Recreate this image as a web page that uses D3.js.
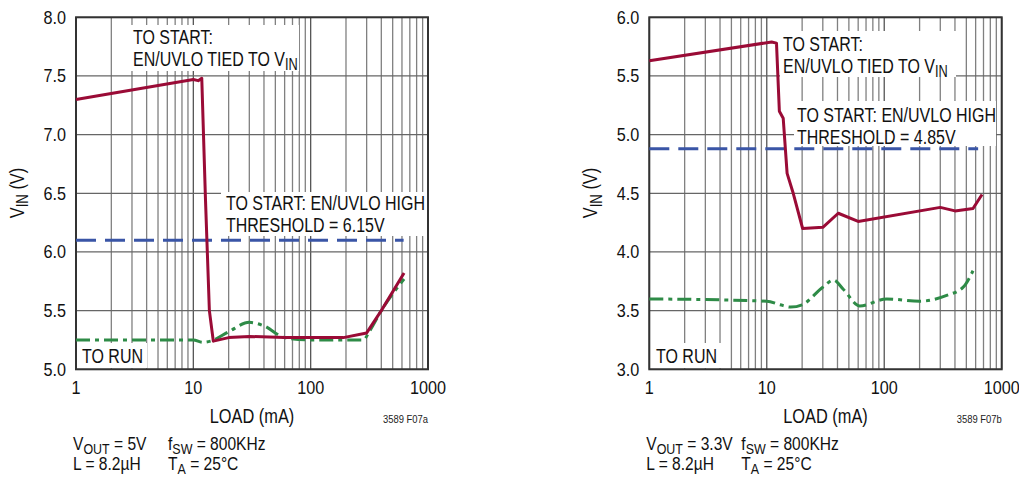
<!DOCTYPE html>
<html>
<head>
<meta charset="utf-8">
<script src="https://cdn.jsdelivr.net/npm/d3@7"></script>
<style>
  body { margin: 0; background: #fff; }
  svg { display: block; font-family: "Liberation Sans", Arial, sans-serif; }
</style>
</head>
<body>
<div id="chart"></div>
<script>
// load ticks (mA)
const loadTicks = [1, 10, 100, 1000];

// left panel: VOUT = 5V
const leftVinTicks = [5.0, 5.5, 6.0, 6.5, 7.0, 7.5, 8.0];
const leftStartLoad = [1, 10, 11, 11.8, 12.7, 13.7, 14.8, 20, 30, 60, 100, 190, 300, 400, 625];
const leftStartVin  = [7.30, 7.47, 7.46, 7.48, 6.44, 5.50, 5.24, 5.27, 5.28, 5.27, 5.27, 5.27, 5.31, 5.50, 5.82];
const leftRunLoad = [1, 10, 12, 14, 20, 30, 40, 60, 100, 200, 280, 320, 400, 625];
const leftRunVin  = [5.25, 5.25, 5.23, 5.24, 5.32, 5.40, 5.37, 5.27, 5.25, 5.25, 5.25, 5.33, 5.50, 5.77];
const leftThreshold = 6.1;
const leftThresholdEnd = 620;

// right panel: VOUT = 3.3V
const rightVinTicks = [3.0, 3.5, 4.0, 4.5, 5.0, 5.5, 6.0];
const rightStartLoad = [1, 11, 12.1, 12.8, 13.8, 14.9, 16.8, 20.2, 30, 40.6, 60, 300, 400, 570, 680];
const rightStartVin  = [5.63, 5.79, 5.78, 5.20, 5.14, 4.67, 4.50, 4.20, 4.21, 4.33, 4.26, 4.38, 4.35, 4.37, 4.49];
const rightRunLoad = [1, 10, 13, 16, 20, 30, 37, 45, 62, 105, 200, 340, 470, 570];
const rightRunVin  = [3.60, 3.58, 3.55, 3.53, 3.55, 3.70, 3.76, 3.68, 3.54, 3.60, 3.58, 3.63, 3.70, 3.84];
const rightThreshold = 4.88;
const rightThresholdEnd = 630;

const W = 1019, H = 479;
const svg = d3.select("#chart").append("svg")
    .attr("width", W)
    .attr("height", H)
    .attr("viewBox", [0, 0, W, H]);

const red = "#9a0b36", blue = "#3a55a6", green = "#2e8b47";

// condensed text: Liberation Sans squeezed horizontally
function label(parent, x, y, size, parts, opts = {}) {
  const sx = opts.sx || 0.82;
  const rot = opts.rotate ? ` rotate(${opts.rotate})` : "";
  const t = parent.append("text")
      .attr("transform", `translate(${x},${y})${rot} scale(${sx},1)`)
      .attr("font-size", size)
      .attr("fill", opts.fill || "#111")
      .attr("text-anchor", opts.anchor || "start");
  if (opts.dy) t.attr("dy", opts.dy);
  if (typeof parts === "string") parts = [[parts, false]];
  parts.forEach(([s, sub], i) => {
    const ts = t.append("tspan").text(s);
    if (sub) ts.attr("font-size", size * 0.8).attr("dy", size * 0.22);
    else if (i > 0 && parts[i - 1][1]) ts.attr("dy", -size * 0.22);
  });
  return t;
}

function panel(opt) {
  const g = svg.append("g");
  const x = d3.scaleLog().domain([1, 1000]).range([opt.left, opt.right]);
  const y = d3.scaleLinear().domain(opt.yDomain).range([369.3, 17.3]);

  // grid
  const minor = [];
  for (let d = 1; d < 1000; d *= 10) for (let k = 2; k <= 9; k++) minor.push(d * k);
  g.append("g").selectAll("line").data(minor).join("line")
      .attr("x1", d => x(d)).attr("x2", d => x(d))
      .attr("y1", y.range()[0]).attr("y2", y.range()[1])
      .attr("stroke", "#808080").attr("stroke-width", 1.3);
  g.append("g").selectAll("line").data(loadTicks).join("line")
      .attr("x1", d => x(d)).attr("x2", d => x(d))
      .attr("y1", y.range()[0]).attr("y2", y.range()[1])
      .attr("stroke", "#555").attr("stroke-width", 1.3);
  g.append("g").selectAll("line").data(opt.yTicks).join("line")
      .attr("x1", opt.left).attr("x2", opt.right)
      .attr("y1", d => y(d)).attr("y2", d => y(d))
      .attr("stroke", "#666").attr("stroke-width", 1.3);

  // annotation boxes
  opt.notes.forEach(n => {
    g.append("rect").attr("x", n.box[0]).attr("y", n.box[1])
      .attr("width", n.box[2]).attr("height", n.box[3]).attr("fill", "#fff");
    n.lines.forEach((ln, i) => label(g, n.x, n.y + i * 22, 19.5, ln));
  });

  // frame
  g.append("rect").attr("x", opt.left).attr("y", 17.3)
      .attr("width", opt.right - opt.left).attr("height", 352)
      .attr("fill", "none").attr("stroke", "#333").attr("stroke-width", 2);

  // axes labels
  opt.yTicks.forEach(d =>
    label(g, opt.left - 10, y(d), 18, d3.format(".1f")(d), { anchor: "end", dy: "0.35em", sx: 0.9 }));
  loadTicks.forEach(d =>
    label(g, x(d), 394, 18, String(d), { anchor: "middle", sx: 0.9 }));
  label(g, (opt.left + opt.right) / 2, 423, 19.5, "LOAD (mA)", { anchor: "middle", sx: 0.84 });
  label(g, opt.right, 423, 11.5, opt.code, { anchor: "end", sx: 0.82, fill: "#222" });
  label(g, opt.left - 52, 193, 19.5, [["V", false], ["IN", true], [" (V)", false]],
    { anchor: "middle", rotate: -90, sx: 0.84 });

  // threshold (blue dashed)
  g.append("line")
      .attr("x1", x(1)).attr("x2", x(opt.thEnd))
      .attr("y1", y(opt.th)).attr("y2", y(opt.th))
      .attr("stroke", blue).attr("stroke-width", 3)
      .attr("stroke-dasharray", "20,9");

  const line = d3.line().x(d => x(d[0])).y(d => y(d[1]));
  // to run (green dash-dot)
  g.append("path").datum(d3.zip(opt.runLoad, opt.runVin))
      .attr("d", line.curve(d3.curveMonotoneX))
      .attr("fill", "none").attr("stroke", green).attr("stroke-width", 3)
      .attr("stroke-dasharray", "14,5,4,5");
  // to start (red)
  g.append("path").datum(d3.zip(opt.startLoad, opt.startVin))
      .attr("d", line.curve(d3.curveLinear))
      .attr("fill", "none").attr("stroke", red).attr("stroke-width", 3)
      .attr("stroke-linejoin", "round");

  // conditions text
  label(g, opt.left - 3, 450, 19, [["V", false], ["OUT", true], [opt.vout, false]]);
  label(g, opt.left + 92, 450, 19, [["f", false], ["SW", true], [" = 800KHz", false]]);
  label(g, opt.left - 3, 470, 19, "L = 8.2µH");
  label(g, opt.left + 92, 470, 19, [["T", false], ["A", true], [" = 25°C", false]]);
}

panel({
  left: 76, right: 428, yDomain: [5, 8], yTicks: leftVinTicks,
  startLoad: leftStartLoad, startVin: leftStartVin,
  runLoad: leftRunLoad, runVin: leftRunVin,
  th: leftThreshold, thEnd: leftThresholdEnd,
  code: "3589 F07a", vout: " = 5V",
  notes: [
    { x: 133, y: 44, box: [129, 25, 170, 46],
      lines: [[["TO START:", false]], [["EN/UVLO TIED TO V", false], ["IN", true]]] },
    { x: 226, y: 210, box: [221, 192, 206, 44],
      lines: [[["TO START: EN/UVLO HIGH", false]], [["THRESHOLD = 6.15V", false]]] },
    { x: 82, y: 363, box: [78, 343, 69, 25],
      lines: [[["TO RUN", false]]] }
  ]
});

panel({
  left: 649.3, right: 1001.7, yDomain: [3, 6], yTicks: rightVinTicks,
  startLoad: rightStartLoad, startVin: rightStartVin,
  runLoad: rightRunLoad, runVin: rightRunVin,
  th: rightThreshold, thEnd: rightThresholdEnd,
  code: "3589 F07b", vout: " = 3.3V",
  notes: [
    { x: 783, y: 51, box: [780, 31, 176, 46],
      lines: [[["TO START:", false]], [["EN/UVLO TIED TO V", false], ["IN", true]]] },
    { x: 797, y: 122, box: [794, 101, 202, 45],
      lines: [[["TO START: EN/UVLO HIGH", false]], [["THRESHOLD = 4.85V", false]]] },
    { x: 656, y: 363, box: [651, 343, 70, 25],
      lines: [[["TO RUN", false]]] }
  ]
});
</script>
</body>
</html>
